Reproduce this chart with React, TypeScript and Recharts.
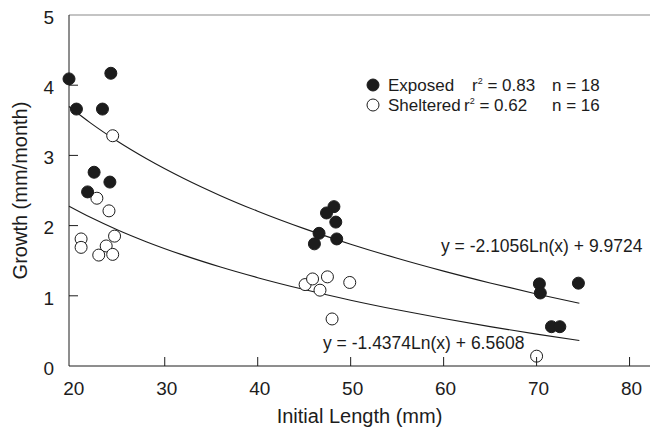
import {
  ComposedChart,
  Customized,
  Line,
  ReferenceLine,
  Scatter,
  XAxis,
  YAxis,
} from "recharts"

// exposed (filled) – initial length mm, growth mm/month
const EXPOSED_X = [19.7, 24.2, 20.5, 23.3, 22.4, 24.1, 21.7, 48.2, 47.4, 48.4, 46.6, 46.1, 48.5, 70.3, 70.4, 74.5, 71.6, 72.5]
const EXPOSED_Y = [4.09, 4.17, 3.66, 3.66, 2.76, 2.62, 2.48, 2.27, 2.18, 2.05, 1.89, 1.74, 1.81, 1.17, 1.04, 1.18, 0.56, 0.56]

// sheltered (open)
const SHELTERED_X = [24.4, 22.7, 24.0, 21.0, 21.0, 24.6, 23.7, 22.9, 24.4, 45.1, 45.9, 47.5, 46.7, 49.9, 48.0, 70.0]
const SHELTERED_Y = [3.28, 2.39, 2.21, 1.81, 1.69, 1.85, 1.71, 1.58, 1.59, 1.16, 1.24, 1.27, 1.08, 1.19, 0.67, 0.14]

// fitted log curves as printed on the figure: y = a*Ln(x) + b
const EXPOSED_FIT = [-2.1056, 9.9724]
const SHELTERED_FIT = [-1.4374, 6.5608]
const FIT_X = [19.7, 22, 25, 28, 32, 36, 40, 45, 50, 55, 60, 65, 70, 74.6]

const X_DOMAIN = [19.7, 82.2]
const Y_DOMAIN = [0, 5]
const X_TICKS = [20, 30, 40, 50, 60, 70, 80]
const Y_TICKS = [0, 1, 2, 3, 4, 5]

const LEGEND = [
  { name: "Exposed", r2: "0.83", n: "18", filled: true },
  { name: "Sheltered", r2: "0.62", n: "16", filled: false },
]

const exposed = EXPOSED_X.map((x, i) => ({ x, y: EXPOSED_Y[i] }))
const sheltered = SHELTERED_X.map((x, i) => ({ x, y: SHELTERED_Y[i] }))
const fit = (c: number[]) => FIT_X.map((x) => ({ x, y: c[0] * Math.log(x) + c[1] }))

const INK = "#1c1c1c"
const FONT = "'Liberation Sans', Arial, sans-serif"
const TICK_SIZE = 9
const X_TICK_MARGIN = 7
const Y_TICK_MARGIN = 6

function Dot({ cx, cy, filled }: { cx?: number; cy?: number; filled: boolean }) {
  return (
    <circle
      cx={cx}
      cy={cy}
      r={6}
      fill={filled ? INK : "#fff"}
      stroke={INK}
      strokeWidth={1}
    />
  )
}

// tick label plus an inward tick mark (ticks on the outer edges are skipped)
function XTick(props: any) {
  const x = Number(props.x)
  const y = Number(props.y)
  const axisY = y - X_TICK_MARGIN - TICK_SIZE
  const v = props.payload.value
  return (
    <g>
      {v !== X_TICKS[0] && (
        <path d={`M${x},${axisY}V${axisY - TICK_SIZE}`} stroke={INK} strokeWidth={1} />
      )}
      <text x={x + 2} y={y} dy="0.71em" textAnchor="middle" fill={INK} fontSize={19} fontFamily={FONT}>
        {v}
      </text>
    </g>
  )
}

function YTick(props: any) {
  const x = Number(props.x)
  const y = Number(props.y)
  const axisX = x + Y_TICK_MARGIN + TICK_SIZE
  const v = props.payload.value
  return (
    <g>
      {v !== Y_TICKS[0] && v !== Y_TICKS[Y_TICKS.length - 1] && (
        <path d={`M${axisX},${y}H${axisX + TICK_SIZE}`} stroke={INK} strokeWidth={1} />
      )}
      <text x={x} y={y + 2} dy="0.355em" textAnchor="end" fill={INK} fontSize={19} fontFamily={FONT}>
        {v}
      </text>
    </g>
  )
}

function Annotations() {
  return (
    <g fontFamily={FONT} fill={INK}>
      {LEGEND.map((l, i) => (
        <g key={l.name}>
          <circle cx={373} cy={85 + i * 20} r={6} fill={l.filled ? INK : "#fff"} stroke={INK} />
          <text x={388} y={91 + i * 20} fontSize={17}>{l.name}</text>
          <text x={i === 0 ? 472 : 464} y={91 + i * 20} fontSize={17}>
            r<tspan dy={-7} fontSize={9}>2</tspan>
            <tspan dy={7}> = {l.r2}</tspan>
          </text>
          <text x={552} y={91 + i * 20} fontSize={17}>n = {l.n}</text>
        </g>
      ))}
      <text x={441} y={252} fontSize={17.5}>
        y = {EXPOSED_FIT[0]}Ln(x) + {EXPOSED_FIT[1]}
      </text>
      <text x={323} y={349} fontSize={17.5}>
        y = {SHELTERED_FIT[0]}Ln(x) + {SHELTERED_FIT[1]}
      </text>
    </g>
  )
}

export default function App() {
  return (
    <div style={{ position: "absolute", left: 0, top: 0, background: "#fff" }}>
      <ComposedChart width={650} height={430} margin={{ top: 15, right: 0, bottom: 0, left: 0 }}>
        <XAxis
          type="number"
          dataKey="x"
          domain={X_DOMAIN}
          ticks={X_TICKS}
          height={64}
          tickLine={false}
          tickSize={TICK_SIZE}
          tickMargin={X_TICK_MARGIN}
          stroke={INK}
          tick={XTick}
          label={{
            value: "Initial Length (mm)",
            position: "insideBottom",
            offset: 7,
            fill: INK,
            fontSize: 20,
            fontFamily: FONT,
          }}
        />
        <YAxis
          type="number"
          dataKey="y"
          domain={Y_DOMAIN}
          ticks={Y_TICKS}
          width={69}
          tickLine={false}
          tickSize={TICK_SIZE}
          tickMargin={Y_TICK_MARGIN}
          stroke={INK}
          tick={YTick}
          label={{
            content: ({ viewBox }: any) => (
              <text
                x={20}
                y={viewBox.y + viewBox.height / 2}
                transform={`rotate(-90 20 ${viewBox.y + viewBox.height / 2})`}
                textAnchor="middle"
                dominantBaseline="central"
                fill={INK}
                fontSize={20}
                fontFamily={FONT}
              >
                Growth (mm/month)
              </text>
            ),
          }}
        />
        <ReferenceLine y={Y_DOMAIN[1]} stroke="#8a8a8a" strokeWidth={1.2} />
        <Line
          data={fit(EXPOSED_FIT)}
          dataKey="y"
          type="monotone"
          dot={false}
          stroke={INK}
          strokeWidth={1.1}
          isAnimationActive={false}
        />
        <Line
          data={fit(SHELTERED_FIT)}
          dataKey="y"
          type="monotone"
          dot={false}
          stroke={INK}
          strokeWidth={1.1}
          isAnimationActive={false}
        />
        <Scatter
          data={sheltered}
          shape={(p: any) => <Dot cx={p.cx} cy={p.cy} filled={false} />}
          isAnimationActive={false}
        />
        <Scatter
          data={exposed}
          shape={(p: any) => <Dot cx={p.cx} cy={p.cy} filled />}
          isAnimationActive={false}
        />
        <Customized component={Annotations} />
      </ComposedChart>
    </div>
  )
}
